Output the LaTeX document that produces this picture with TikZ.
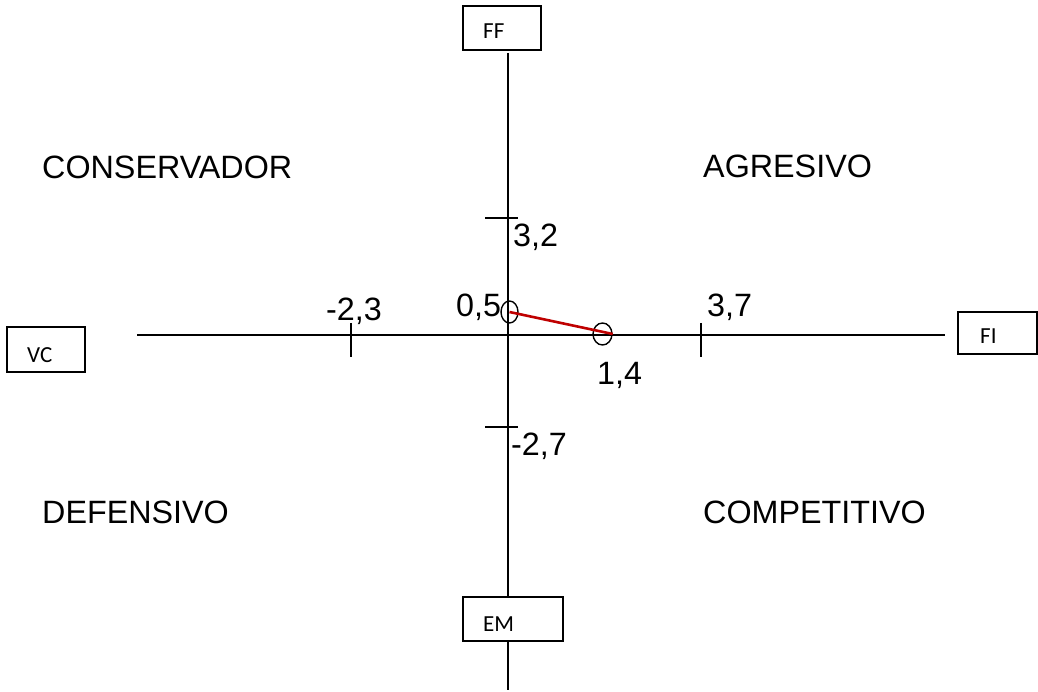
\documentclass[tikz,border=0pt]{standalone}
\usepackage{fontspec}
\usetikzlibrary{shapes.geometric}
\setmainfont{Liberation Sans}
\newfontfamily\boxfont{Carlito}
\begin{document}
\begin{tikzpicture}[x=1pt,y=-1pt,
  axis/.style={line width=1.4pt,black},
  lbl/.style={font=\fontsize{32.3}{32.3}\selectfont,inner sep=0pt,anchor=base west},
  axbox/.style={draw,line width=1.9pt,inner sep=0pt},
  boxtxt/.style={font=\boxfont\fontsize{23}{23}\selectfont,inner sep=0pt,anchor=base west},
  pt/.style={draw,line width=1.4pt,ellipse,minimum width=18pt,minimum height=22pt,inner sep=0pt}]
\useasboundingbox (0,0) rectangle (1038,692);
% boxes
\node[axbox,minimum width=78pt,minimum height=44pt] (ff) at (502,28) {};
\node[axbox,minimum width=78pt,minimum height=45pt] (vc) at (46,349.5) {};
\node[axbox,minimum width=79pt,minimum height=42pt] (fi) at (997.5,333) {};
\node[axbox,minimum width=100pt,minimum height=44pt] (em) at (513,619) {};
\node[boxtxt] (fft) at (483,39) {FF};
\node[boxtxt] (vct) at (27,362) {VC};
\node[boxtxt] (fit) at (980,344) {FI};
\node[boxtxt] (emt) at (483,631) {EM};
% axes
\coordinate (top) at (508,53);
\coordinate (bot) at (508,690);
\coordinate (left) at (137,335);
\coordinate (right) at (945,335);
\draw[axis] (top) -- (em.north -| top);
\draw[axis] (em.south -| top) -- (bot);
\draw[axis] (left) -- (right);
% ticks
\coordinate (t1a) at (485,218); \coordinate (t1b) at (518,218);
\coordinate (t2a) at (485,427); \coordinate (t2b) at (518,427);
\coordinate (t3a) at (351,323); \coordinate (t3b) at (351,357);
\coordinate (t4a) at (701,323); \coordinate (t4b) at (701,357);
\draw[axis] (t1a) -- (t1b);
\draw[axis] (t2a) -- (t2b);
\draw[axis] (t3a) -- (t3b);
\draw[axis] (t4a) -- (t4b);
% points
\node[pt,minimum width=17pt] (p1) at (509.5,312) {};
\node[pt,minimum width=19pt] (p2) at (602.5,334) {};
\draw[line width=2.6pt,red!75!black] (p1.center) -- (p2.east);
% labels
\node[lbl] (l32) at (513,247) {3,2};
\node[lbl] (l27) at (511,455) {-2,7};
\node[lbl] (l23) at (326,320) {-2,3};
\node[lbl] (l05) at (456,317) {0,5};
\node[lbl] (l37) at (707,317) {3,7};
\node[lbl] (l14) at (597,384) {1,4};
% quadrants
\node[lbl] (cons) at (42,179) {CONSERVADOR};
\node[lbl] (agr) at (703,178) {AGRESIVO};
\node[lbl] (def) at (42,523) {DEFENSIVO};
\node[lbl] (comp) at (703,523) {COMPETITIVO};
\end{tikzpicture}
\end{document}
